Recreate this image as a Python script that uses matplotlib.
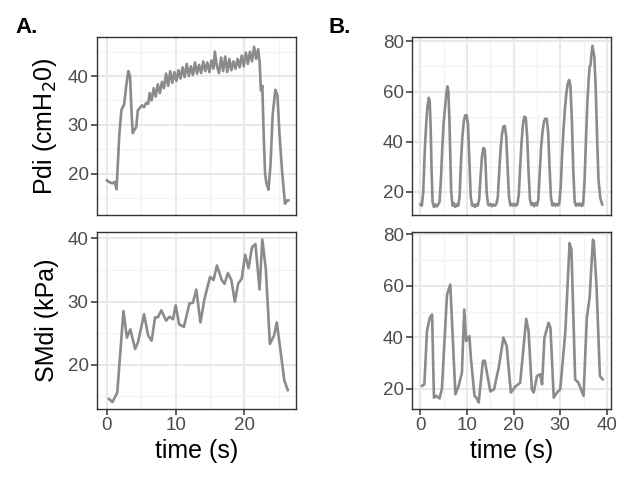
import matplotlib
matplotlib.use("Agg")
import matplotlib.pyplot as plt
from matplotlib.ticker import MultipleLocator

plt.rcParams['font.family'] = ['Liberation Sans', 'DejaVu Sans']

# A : Pdi (cmH2O) pendant un effort soutenu
pdi_a_t = [0.0, 0.4, 0.8, 1.1, 1.4, 1.8, 2.1, 2.5, 2.8, 3.1, 3.35, 3.6, 3.75, 4.0, 4.25,
           4.5, 4.8, 5.1, 5.4, 5.7, 6.0, 6.2, 6.5, 6.8, 7.1, 7.4, 7.7, 8.0, 8.3, 8.6,
           8.9, 9.2, 9.5, 9.8, 10.1, 10.4, 10.7, 11.0, 11.3, 11.6, 11.9, 12.2, 12.5,
           12.8, 13.1, 13.4, 13.7, 14.0, 14.3, 14.6, 14.9, 15.2, 15.5, 15.7, 16.0,
           16.3, 16.6, 16.9, 17.2, 17.5, 17.8, 18.1, 18.4, 18.7, 19.0, 19.3, 19.6,
           19.9, 20.2, 20.5, 20.8, 21.1, 21.4, 21.7, 22.0, 22.2, 22.4, 22.6, 22.8,
           23.0, 23.2, 23.5, 23.8, 24.1, 24.5, 24.8, 25.1, 25.5, 25.9, 26.2, 26.4]
pdi_a_v = [18.6, 18.2, 18.0, 18.3, 16.8, 28, 33, 34.2, 38, 41, 40, 32, 28.3, 29, 29.5,
           33, 33.5, 34, 33.6, 34.5, 34.3, 36.5, 35, 37.5, 35.8, 38.3, 36.5, 38.8, 37.5, 40.5,
           38, 41, 38.6, 40.8, 39, 41.2, 39.5, 41.8, 39.8, 42.5, 40, 42, 40.2,
           42.8, 40.5, 42.3, 40.6, 43, 41, 42.8, 40.8, 43.2, 41.5, 45, 42,
           40.6, 43.8, 41, 44, 40.8, 43.5, 41.2, 43, 41.5, 43.5, 41.8, 44.2,
           42, 44.8, 42.5, 45, 43, 46, 43.5, 45.5, 43, 37, 38, 28,
           20, 18, 16.7, 22, 32, 37.2, 36, 28, 20, 13.8, 14.5, 14.5]

# A : SMdi (kPa)
smdi_a_t = [0.3, 0.8, 1.5, 2.4, 2.9, 3.4, 4.1, 4.5, 5.4, 6.0, 6.5, 7.0, 7.4, 7.9, 8.6,
            9.1, 9.6, 10.0, 10.5, 11.2, 12.0, 12.5, 13.0, 13.6, 14.2, 15.0, 15.5, 16.0,
            16.7, 17.1, 17.6, 18.1, 18.6, 19.1, 19.6, 20.1, 20.6, 21.1, 21.6, 22.2,
            22.6, 23.1, 23.7, 24.3, 24.7, 25.3, 25.8, 26.3]
smdi_a_v = [14.6, 14.1, 15.6, 28.5, 24.3, 25.6, 22.5, 23.5, 28, 24.6, 23.8, 27.5, 27.5, 28.6, 27,
            27.6, 27.2, 29.4, 26.4, 26, 29.7, 29.8, 31.9, 26.7, 30.5, 33.9, 33.4, 35.7,
            33.4, 32.8, 34.5, 33.4, 30, 32.9, 33.6, 37.4, 35.3, 38.6, 39.1, 31.9,
            39.8, 35.3, 23.3, 24.6, 26.7, 21.8, 17.5, 16]

# B : Pdi, respirations successives
pdi_b_t = [0.0, 0.3, 0.6, 0.9, 1.2, 1.5, 1.8, 2.0, 2.2, 2.4, 2.6, 2.9, 3.2, 3.5, 3.8,
           4.1, 4.4, 4.7, 5.0, 5.3, 5.6, 5.8, 6.0, 6.2, 6.4, 6.6, 6.9, 7.2, 7.5, 7.8, 8.1,
           8.4, 8.7, 9.0, 9.3, 9.6, 9.9, 10.2, 10.5, 10.8, 11.1, 11.4, 11.7, 12.0, 12.3,
           12.6, 12.9, 13.2, 13.5, 13.8, 14.0, 14.2, 14.5, 14.8, 15.1, 15.4, 15.7, 16.0, 16.3,
           16.6, 16.9, 17.2, 17.5, 17.8, 18.1, 18.4, 18.7, 19.0, 19.3, 19.6, 19.9, 20.2, 20.5, 20.8,
           21.1, 21.4, 21.7, 22.0, 22.3, 22.6, 22.9, 23.2, 23.5, 23.8, 24.1, 24.4, 24.7, 25.0,
           25.3, 25.6, 25.9, 26.2, 26.5, 26.8, 27.1, 27.4, 27.7, 28.0, 28.3, 28.6, 28.9, 29.2, 29.5, 29.8,
           30.1, 30.4, 30.7, 31.0, 31.3, 31.6, 31.9, 32.2, 32.5, 32.8, 33.1, 33.4, 33.7, 34.0, 34.3, 34.6, 34.9,
           35.2, 35.5, 35.8, 36.1, 36.3, 36.5, 36.7, 36.9, 37.1, 37.3, 37.6, 37.9, 38.2, 38.6, 39.0]
pdi_b_v = [15, 14.5, 20, 35, 46, 54, 57.5, 56, 45, 28, 16, 14, 15, 14.2, 15,
           16, 25, 38, 48, 54, 60, 62, 60, 50, 35, 20, 14.5, 15.5, 14, 15, 14.5,
           18, 32, 42, 48, 50.5, 50.5, 47, 32, 18, 14.5, 15, 14, 15, 14.5,
           17, 26, 34, 37.5, 37, 30, 20, 15, 14.6, 15.2, 14.3, 15, 14.5, 15.2,
           18, 28, 37, 43, 46, 46.3, 42, 30, 18, 14.6, 15.2, 14.5, 15.3, 14.5, 15,
           19, 30, 40, 47, 50, 49.5, 42, 28, 17, 14.8, 15.5, 14.3, 15.6, 14.6,
           17, 28, 38, 44, 48, 49.2, 49, 44, 30, 18, 14.6, 15.4, 14.5, 15.2, 14.6, 15.5,
           22, 35, 45, 53, 59, 63, 64.6, 62, 48, 28, 16, 14.5, 15.3, 14.6, 15.4, 14.4, 15,
           24, 40, 55, 65, 70, 70.5, 75, 78.2, 76, 74, 62, 42, 25, 17.5, 15]

# B : SMdi
smdi_b_t = [0.35, 0.85, 1.4, 2.0, 2.5, 2.9, 3.4, 4.1, 4.6, 5.7, 6.4, 7.5, 8.2, 8.9, 9.4,
            9.8, 10.5, 10.8, 11.6, 12.0, 12.5, 13.4, 13.8, 15.0, 15.8, 16.8, 17.8, 18.5,
            19.4, 20.3, 21.4, 22.7, 23.2, 23.9, 24.3, 25.0, 25.7, 26.1, 26.6, 27.5, 27.9,
            28.6, 29.3, 30.0, 31.1, 32.0, 32.4, 33.2, 33.9, 35.0, 35.7, 36.3, 37.0, 37.2,
            37.8, 38.5, 39.1]
smdi_b_v = [21.2, 21.8, 42.4, 47.6, 48.9, 16.6, 17.3, 16.3, 19.9, 56.6, 60.5, 17.9, 21.2, 26.3, 50.8,
            38.6, 40.5, 32.6, 17.3, 16.6, 14.7, 30.8, 31, 19, 19.9, 28.3, 39.9, 36.7,
            18.6, 20.8, 22.4, 47.2, 42.4, 19.9, 18.6, 25, 25.7, 21.8, 39.9, 45.7, 43.7,
            16.6, 18.6, 19.9, 42.4, 76.6, 74, 23.7, 22.4, 17.3, 47.6, 55.4, 77.9, 77.3,
            59.2, 25, 23.7]

fig = plt.figure(figsize=(6.31, 4.79), dpi=100)

W = 0.3154
ax1 = fig.add_axes([0.1537, 0.5511, W, 0.3716])
ax2 = fig.add_axes([0.1537, 0.1461, W, 0.3695])
ax3 = fig.add_axes([0.6530, 0.5511, W, 0.3716])
ax4 = fig.add_axes([0.6530, 0.1461, W, 0.3695])

ligne = dict(color="#8b8b8b", lw=1.9, solid_joinstyle="round")
ax1.plot(pdi_a_t, pdi_a_v, **ligne)
ax2.plot(smdi_a_t, smdi_a_v, **ligne)
ax3.plot(pdi_b_t, pdi_b_v, **ligne)
ax4.plot(smdi_b_t, smdi_b_v, **ligne)

# limites et graduations
ax1.set_xlim(-1.45, 27.5); ax1.set_ylim(11.5, 48.0)
ax2.set_xlim(-1.45, 27.5); ax2.set_ylim(13.0, 41.0)
ax3.set_xlim(-1.8, 40.9); ax3.set_ylim(10.8, 81.7)
ax4.set_xlim(-1.8, 40.9); ax4.set_ylim(12.2, 80.9)

for ax in [ax1, ax2]:
    ax.xaxis.set_major_locator(MultipleLocator(10))
    ax.xaxis.set_minor_locator(MultipleLocator(5))
    ax.yaxis.set_major_locator(MultipleLocator(10))
    ax.yaxis.set_minor_locator(MultipleLocator(5))
for ax in [ax3, ax4]:
    ax.xaxis.set_major_locator(MultipleLocator(10))
    ax.xaxis.set_minor_locator(MultipleLocator(5))
    ax.yaxis.set_major_locator(MultipleLocator(20))
    ax.yaxis.set_minor_locator(MultipleLocator(10))

for ax in [ax1, ax2, ax3, ax4]:
    ax.grid(which="major", color="#e8e8e8", lw=1.5)
    ax.grid(which="minor", color="#f2f2f2", lw=0.9)
    ax.set_axisbelow(True)
    for s in ax.spines.values():
        s.set_color("#333333")
        s.set_linewidth(1.0)
    ax.tick_params(which="major", length=4, width=1.1, color="#333333",
                   labelsize=13.5, labelcolor="#4d4d4d", pad=2)
    ax.tick_params(which="minor", length=0)

# pas de graduations x sur les panneaux du haut
ax1.tick_params(axis="x", which="both", length=0, labelbottom=False)
ax3.tick_params(axis="x", which="both", length=0, labelbottom=False)

ax1.set_ylabel("Pdi (cmH$_2$0)", fontsize=18, labelpad=6)
ax2.set_ylabel("SMdi (kPa)", fontsize=18, labelpad=6)
ax2.set_xlabel("time (s)", fontsize=18, labelpad=3)
ax4.set_xlabel("time (s)", fontsize=18, labelpad=3)

fig.text(0.025, 0.965, "A.", fontsize=16, fontweight="bold", va="top")
fig.text(0.52, 0.965, "B.", fontsize=16, fontweight="bold", va="top")

plt.savefig("out.png", dpi=100)
